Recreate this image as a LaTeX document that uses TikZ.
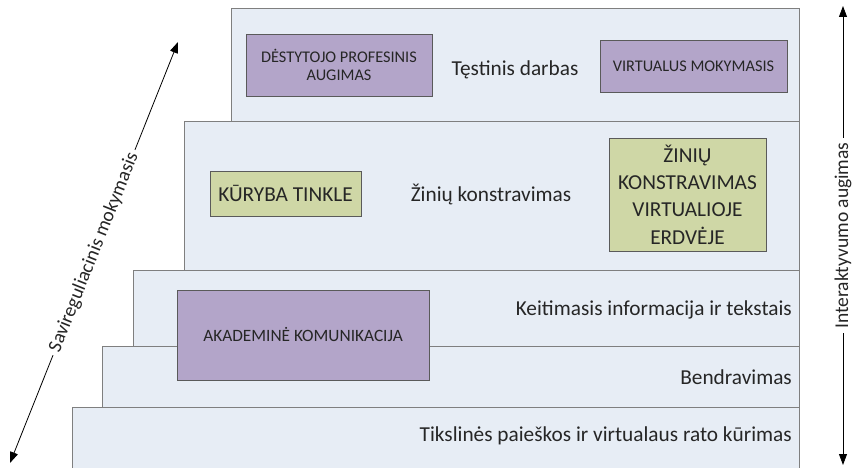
\documentclass[tikz,border=0pt]{standalone}
\usepackage{fontspec}
\setmainfont{Carlito}
\usetikzlibrary{arrows.meta,shadows}
\definecolor{layerfill}{HTML}{E7EDF5}
\definecolor{layerline}{HTML}{7F7F7F}
\definecolor{violetbox}{HTML}{B3A5C9}
\definecolor{greenbox}{HTML}{CFD7A6}
\definecolor{boxline}{HTML}{5A5A5A}
\definecolor{inktext}{HTML}{262626}
\begin{document}
\begin{tikzpicture}[x=1pt,y=-1pt,
  layer/.style={draw=layerline, fill=layerfill, line width=0.9pt},
  lvltext/.style={text=inktext, font=\fontsize{21.3}{24}\selectfont, inner sep=0pt},
  boxbase/.style={draw=boxline, line width=0.9pt, align=center, text=inktext, inner sep=0pt,
    drop shadow={shadow xshift=0.9pt, shadow yshift=-0.9pt, fill=black!55, opacity=0.6}},
  vbox/.style={boxbase, fill=violetbox, font=\fontsize{16.3}{17.5}\selectfont},
  gbox/.style={boxbase, fill=greenbox, font=\fontsize{21.3}{27.3}\selectfont},
  biarrow/.style={line width=0.8pt, {Triangle[length=11pt,width=8pt]}-{Triangle[length=11pt,width=8pt]}},
  axislabel/.style={fill=white, inner xsep=4pt, inner ysep=1pt, text=inktext,
    font=\fontsize{19.5}{21}\selectfont, sloped}
]
\useasboundingbox (0,0) rectangle (854,468);
\clip (0,0) rectangle (854,468);

% stacked levels, the upper ones drawn first
\draw[layer] (231,8) rectangle (799,480);
\draw[layer] (184,121) rectangle (799,480);
\draw[layer] (133,270) rectangle (799,480);
\draw[layer] (102,346) rectangle (799,480);
\draw[layer] (72,407) rectangle (799,480);

% level captions
\node[lvltext] (tes) at (515,70) {Tęstinis darbas};
\node[lvltext] (zin) at (491,195) {Žinių konstravimas};
\node[lvltext, anchor=east] (kei) at (792,310) {Keitimasis informacija ir tekstais};
\node[lvltext, anchor=east] (ben) at (792,377) {Bendravimas};
\node[lvltext, anchor=east] (tik) at (792,436) {Tikslinės paieškos ir virtualaus rato kūrimas};

% boxes inside the levels
\node[vbox, minimum width=186, minimum height=62] (dpa) at (339,65) {DĖSTYTOJO PROFESINIS\\AUGIMAS};
\node[vbox, minimum width=187, minimum height=52] (vm) at (693.5,66) {VIRTUALUS MOKYMASIS};
\node[gbox, minimum width=151, minimum height=45] (kt) at (285.5,193.5) {KŪRYBA TINKLE};
\node[gbox, minimum width=157, minimum height=113] (zkv) at (687.5,194.5) {ŽINIŲ\\KONSTRAVIMAS\\VIRTUALIOJE\\ERDVĖJE};
\node[vbox, minimum width=252, minimum height=90, font=\fontsize{17.3}{19}\selectfont] (ak) at (303,335) {AKADEMINĖ KOMUNIKACIJA};

% side axes
\coordinate (sBot) at (10,463);
\coordinate (sTop) at (178,42);
\draw[biarrow] (sBot) -- node[axislabel, pos=0.5] (sav) {Savireguliacinis mokymasis} (sTop);

\coordinate (iBot) at (843,465);
\coordinate (iTop) at (843,6);
\draw[biarrow] (iBot) -- node[axislabel, pos=0.5] (int) {Interaktyvumo augimas} (iTop);
\end{tikzpicture}
\end{document}
